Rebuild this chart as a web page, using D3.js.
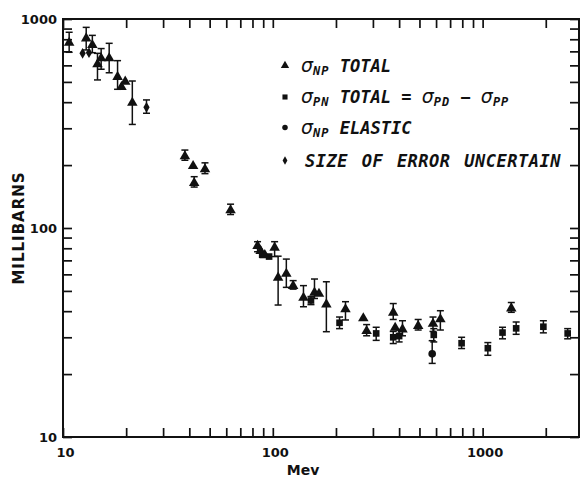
<!DOCTYPE html>
<html>
<head>
<meta charset="utf-8">
<script src="https://cdn.jsdelivr.net/npm/d3@7"></script>
<style>
  html, body { margin: 0; padding: 0; background: #fff; }
  svg { display: block; }
  .tick text { font-family: "DejaVu Sans", sans-serif; font-weight: bold; font-size: 13px; fill: #111; }
  .legend text { font-family: "DejaVu Sans Mono", monospace; font-weight: bold; font-style: oblique; fill: #111; }
</style>
</head>
<body>
<svg id="chart" width="582" height="479"></svg>
<script>
// Neutron-proton cross sections vs. laboratory energy (Mev, millibarns)
// Each point: energy, value, and optional error-bar low / high.

// σ_NP total
const npTotal = [
  { e: 10.7, v: 778, lo: 693, hi: 864 },
  { e: 12.9, v: 817, lo: 711, hi: 912 },
  { e: 13.8, v: 759, lo: 690, hi: 835 },
  { e: 14.6, v: 614, lo: 511, hi: 685 },
  { e: 15.2, v: 656, lo: 575, hi: 722 },
  { e: 16.6, v: 656, lo: 553, hi: 765 },
  { e: 18.2, v: 534, lo: 461, hi: 632 },
  { e: 19.0, v: 478 },
  { e: 19.8, v: 507 },
  { e: 21.4, v: 402, lo: 313, hi: 505 },
  { e: 38.1, v: 223, lo: 211, hi: 236 },
  { e: 41.7, v: 200 },
  { e: 47.5, v: 193, lo: 182, hi: 205 },
  { e: 42.2, v: 166, lo: 157, hi: 176 },
  { e: 62.9, v: 123, lo: 116, hi: 130 },
  { e: 84.6, v: 83, lo: 77, hi: 86 },
  { e: 87.5, v: 78.5 },
  { e: 91.6, v: 75 },
  { e: 102, v: 81.4, lo: 73, hi: 86 },
  { e: 106, v: 58.5, lo: 42.8, hi: 73.3 },
  { e: 116, v: 61.1, lo: 52, hi: 71 },
  { e: 125, v: 53.4, lo: 51, hi: 56 },
  { e: 140, v: 46.9, lo: 42, hi: 53 },
  { e: 158, v: 49.6, lo: 46, hi: 57 },
  { e: 166, v: 49 },
  { e: 180, v: 43.6, lo: 31.9, hi: 55.3 },
  { e: 222, v: 41.3, lo: 36.3, hi: 44.4 },
  { e: 270, v: 37.4 },
  { e: 280, v: 32.5, lo: 30.5, hi: 34.5 },
  { e: 375, v: 39.8, lo: 36.5, hi: 43.5 },
  { e: 383, v: 33.7 },
  { e: 415, v: 33.1, lo: 30.5, hi: 36 },
  { e: 493, v: 34.4, lo: 32.5, hi: 36.5 },
  { e: 580, v: 35.2, lo: 32, hi: 37.5 },
  { e: 629, v: 37.0, lo: 32.5, hi: 40.2 },
  { e: 1370, v: 41.7, lo: 39.5, hi: 44 }
];

// σ_PN total = σ_PD − σ_PP
const pnTotal = [
  { e: 89, v: 74.5 },
  { e: 96, v: 73 },
  { e: 152, v: 45, lo: 43, hi: 47 },
  { e: 208, v: 35.2, lo: 33, hi: 37.5 },
  { e: 311, v: 31.3, lo: 29, hi: 33.5 },
  { e: 375, v: 30.0, lo: 28, hi: 32 },
  { e: 400, v: 30.4, lo: 28.5, hi: 32.5 },
  { e: 585, v: 30.8, lo: 28.5, hi: 33 },
  { e: 794, v: 28.1, lo: 26.5, hi: 30 },
  { e: 1059, v: 26.6, lo: 24.6, hi: 28.3 },
  { e: 1244, v: 31.6, lo: 29.5, hi: 33.5 },
  { e: 1445, v: 33.1, lo: 31, hi: 35.5 },
  { e: 1948, v: 33.7, lo: 31.5, hi: 36 },
  { e: 2543, v: 31.3, lo: 29.5, hi: 33 }
];

// σ_NP elastic
const npElastic = [
  { e: 575, v: 25.0, lo: 22.5, hi: 28.9 }
];

// size of error uncertain
const uncertain = [
  { e: 12.4, v: 685 },
  { e: 13.3, v: 690 },
  { e: 25.0, v: 378, lo: 354, hi: 410 }
];

const xDomain = [10, 2880];
const yDomain = [10, 1000];
const xLabels = [10, 100, 1000];
const yLabels = [10, 100, 1000];

const legendRows = [
  { shape: "triangle", sigma: true, sub: "NP", text: " TOTAL" },
  { shape: "square", sigma: true, sub: "PN", text: " TOTAL = ", extra: true },
  { shape: "circle", sigma: true, sub: "NP", text: " ELASTIC" },
  { shape: "diamond", sigma: false, text: "SIZE OF ERROR UNCERTAIN" }
];

const svg = d3.select("#chart");
const ink = "#111";

const x = d3.scaleLog().domain(xDomain).range([63, 579]);
const y = d3.scaleLog().domain(yDomain).range([437, 19]);

// tick positions: every 1..9 × 10^k inside the domain
function logTicks(domain) {
  const out = [];
  for (let p = 1; p <= 4; p++) {
    for (let m = 1; m <= 9; m++) {
      const v = m * Math.pow(10, p);
      if (v >= domain[0] - 1e-9 && v <= domain[1] + 1e-9) out.push(v);
    }
  }
  return out;
}
const xTicks = logTicks(xDomain);
const yTicks = logTicks(yDomain);
const fmt = v => (xLabels.includes(v) ? String(v) : "");
const fmtY = v => (yLabels.includes(v) ? String(v) : "");

const tickLen = 9;

function styleAxis(g) {
  g.select(".domain").remove();
  g.selectAll(".tick line").attr("stroke", ink).attr("stroke-width", 1.7);
}

svg.append("g").attr("transform", "translate(0,437)")
  .call(d3.axisBottom(x).tickValues(xTicks).tickFormat(fmt).tickSize(-tickLen).tickPadding(11))
  .call(styleAxis)
  .call(g => g.selectAll(".tick text").attr("dx", 2));

svg.append("g").attr("transform", "translate(0,19)")
  .call(d3.axisTop(x).tickValues(xTicks).tickFormat("").tickSize(-tickLen))
  .call(styleAxis);

svg.append("g").attr("transform", "translate(63,0)")
  .call(d3.axisLeft(y).tickValues(yTicks).tickFormat(fmtY).tickSize(-tickLen).tickPadding(6))
  .call(styleAxis);

svg.append("g").attr("transform", "translate(579,0)")
  .call(d3.axisRight(y).tickValues(yTicks).tickFormat("").tickSize(-tickLen))
  .call(styleAxis);

// plot frame
svg.append("rect")
  .attr("x", x(xDomain[0])).attr("y", y(yDomain[1]))
  .attr("width", x(xDomain[1]) - x(xDomain[0]))
  .attr("height", y(yDomain[0]) - y(yDomain[1]))
  .attr("fill", "none").attr("stroke", ink).attr("stroke-width", 2);

// axis titles
svg.append("text")
  .attr("x", 303).attr("y", 475)
  .attr("text-anchor", "middle")
  .attr("font-family", "DejaVu Sans, sans-serif").attr("font-weight", "bold").attr("font-size", 14)
  .attr("fill", ink)
  .text("Mev");

svg.append("text")
  .attr("transform", "translate(24,228) rotate(-90)")
  .attr("text-anchor", "middle")
  .attr("font-family", "DejaVu Sans, sans-serif").attr("font-weight", "bold").attr("font-size", 15)
  .attr("letter-spacing", 1)
  .attr("fill", ink)
  .text("MILLIBARNS");

// symbols
const shapes = {
  triangle: d3.symbolTriangle,
  square: d3.symbolSquare,
  circle: d3.symbolCircle,
  diamond: d3.symbolDiamond
};
const sizes = { triangle: 48, square: 44, circle: 46, diamond: 34 };

const capW = 3.5;
function drawSeries(data, shape) {
  const g = svg.append("g");
  const withErr = data.filter(d => d.lo != null);
  const eb = g.selectAll("g.err").data(withErr).join("g").attr("class", "err")
    .attr("stroke", ink).attr("stroke-width", 1.5);
  eb.append("line")
    .attr("x1", d => x(d.e)).attr("x2", d => x(d.e))
    .attr("y1", d => y(d.lo)).attr("y2", d => y(d.hi));
  eb.append("line")
    .attr("x1", d => x(d.e) - capW).attr("x2", d => x(d.e) + capW)
    .attr("y1", d => y(d.lo)).attr("y2", d => y(d.lo));
  eb.append("line")
    .attr("x1", d => x(d.e) - capW).attr("x2", d => x(d.e) + capW)
    .attr("y1", d => y(d.hi)).attr("y2", d => y(d.hi));
  const sym = d3.symbol().type(shapes[shape]).size(sizes[shape]);
  g.selectAll("path.pt").data(data).join("path").attr("class", "pt")
    .attr("d", sym)
    .attr("fill", ink)
    .attr("transform", d => `translate(${x(d.e)},${y(d.v) + (shape === "triangle" ? 1 : 0)})`);
}
drawSeries(pnTotal, "square");
drawSeries(npTotal, "triangle");
drawSeries(npElastic, "circle");
drawSeries(uncertain, "diamond");

// legend
const legend = svg.append("g").attr("class", "legend");
const rowY = [71.5, 103, 133.5, 166.5];
const legendSizes = { triangle: 30, square: 26, circle: 24, diamond: 20 };
legendRows.forEach((r, i) => {
  const by = rowY[i];
  legend.append("path")
    .attr("d", d3.symbol().type(shapes[r.shape]).size(legendSizes[r.shape]))
    .attr("fill", ink)
    .attr("transform", `translate(285,${by - 6})`);
  const t = legend.append("text").attr("x", r.sigma ? 301 : 305).attr("y", by).attr("font-size", 17);
  const sig = (sub) => {
    t.append("tspan").attr("font-size", 19).attr("font-weight", "normal").attr("font-family", "DejaVu Sans, sans-serif").text("σ");
    t.append("tspan").attr("font-size", 12).attr("dy", 3).attr("letter-spacing", 1).text(sub);
  };
  if (r.sigma) {
    sig(r.sub);
    t.append("tspan").attr("dy", -3).text(r.text);
    if (r.extra) {
      sig("PD");
      t.append("tspan").attr("dy", -3).text(" − ");
      sig("PP");
    }
  } else {
    t.attr("word-spacing", 3).attr("letter-spacing", 0.5).text(r.text);
  }
});
</script>
</body>
</html>
